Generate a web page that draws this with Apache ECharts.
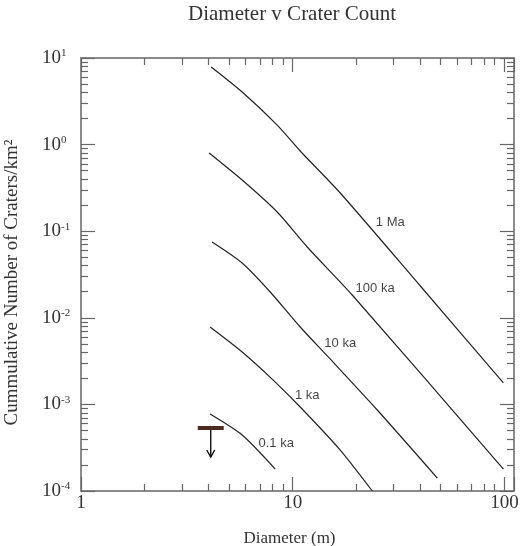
<!DOCTYPE html>
<html>
<head>
<meta charset="utf-8">
<title>Diameter v Crater Count</title>
<script src="https://cdn.jsdelivr.net/npm/echarts@6/dist/echarts.min.js"></script>
<style>
  html, body { margin: 0; padding: 0; background: #fff; }
  #chart { width: 524px; height: 546px; }
</style>
</head>
<body>
<div id="chart"></div>
<script>
// isochrons: diameter (m) vs cumulative craters per km2
const diam1Ma = [4.12, 5.77, 8.45, 10.85, 16.77, 40.08, 98.9]
const count1Ma = [7.87, 4.05, 1.68, 0.844, 0.276, 0.0233, 0.00177]

const diam100ka = [4.03, 5.77, 8.45, 11.71, 19.11, 98.9]
const count100ka = [0.80, 0.390, 0.1666, 0.0657, 0.01834, 0.000179]

const diam10ka = [4.16, 5.77, 7.83, 10.85, 14.72, 25.09, 48.22]
const count10ka = [0.0750, 0.0429, 0.01986, 0.00783, 0.00353, 0.000862, 0.000141]

const diam1ka = [4.07, 5.77, 8.09, 10.85, 16.77, 23.77]
const count1ka = [0.00783, 0.00403, 0.00191, 0.000933, 0.000297, 0.0001]

const diam01ka = [4.07, 5.77, 8.27]
const count01ka = [0.000774, 0.000443, 0.000179]

// curve labels
const labelText = ['1 Ma', '100 ka', '10 ka', '1 ka', '0.1 ka']
const labelDiam = [28.9, 24.5, 16.77, 11.71, 8.36]
const labelCount = [0.1277, 0.02208, 0.00512, 0.001284, 0.000358]

// upper limit marker (diameter, count, arrow tip)
const limitDiam = [4.1]
const limitCount = [0.000534]
const limitTip = [0.000247]

const xTicks = [1, 10, 100]
const yTicks = [1e-4, 1e-3, 1e-2, 1e-1, 1, 10]

const serif = "'Liberation Serif', 'DejaVu Serif', serif"
const frameColor = '#666'

function pairs (xs, ys) {
  return xs.map((x, i) => [x, ys[i]])
}

function isTick (ticks, v) {
  return ticks.find(t => Math.abs(Math.log10(v) - Math.log10(t)) < 1e-6)
}

const curves = [
  [diam1Ma, count1Ma],
  [diam100ka, count100ka],
  [diam10ka, count10ka],
  [diam1ka, count1ka],
  [diam01ka, count01ka]
]

function logAxis (position, extra) {
  return Object.assign({
    type: 'log',
    logBase: 10,
    position: position,
    axisLine: { show: true, onZero: false, lineStyle: { color: frameColor, width: 1.5 } },
    axisTick: { show: true, inside: true, length: 14, lineStyle: { color: frameColor, width: 1.2 } },
    minorTick: { show: true, splitNumber: 9, length: 7, lineStyle: { color: frameColor, width: 1.2 } },
    splitLine: { show: false },
    minorSplitLine: { show: false },
    axisLabel: { show: false }
  }, extra)
}

const chart = echarts.init(document.getElementById('chart'))

chart.setOption({
  animation: false,
  title: {
    text: 'Diameter v Crater Count',
    left: 188,
    top: 4,
    padding: 0,
    textStyle: { fontFamily: serif, fontSize: 21, fontWeight: 'normal', color: '#333' }
  },
  grid: { left: 81, right: 10, top: 58, bottom: 55, containLabel: false, outerBoundsMode: 'none' },
  xAxis: [
    logAxis('bottom', {
      min: 1,
      max: 111,
      axisLabel: {
        show: true,
        margin: 3,
        fontFamily: serif,
        fontSize: 19,
        color: '#333',
        formatter: v => isTick(xTicks, v) ? String(isTick(xTicks, v)) : ''
      },
      name: 'Diameter (m)',
      nameLocation: 'middle',
      nameGap: 39,
      nameTextStyle: { fontFamily: serif, fontSize: 17, color: '#333', padding: [0, 16, 0, 0] }
    }),
    logAxis('top', { min: 1, max: 111 })
  ],
  yAxis: [
    logAxis('left', {
      min: 1e-4,
      max: 10,
      axisLabel: {
        show: true,
        align: 'left',
        margin: 39,
        color: '#333',
        formatter: function (v) {
          const t = isTick(yTicks, v)
          if (!t) return ''
          return '{b|10}{s|' + Math.round(Math.log10(t)) + '}'
        },
        rich: {
          b: { fontFamily: serif, fontSize: 19, color: '#333' },
          s: { fontFamily: serif, fontSize: 11, color: '#333', padding: [0, 0, 9, 0] }
        }
      },
      name: 'Cummulative Number of Craters/km²',
      nameLocation: 'middle',
      nameGap: 59,
      nameTextStyle: { fontFamily: serif, fontSize: 19, color: '#333', padding: [0, 16, 0, 0] }
    }),
    logAxis('right', { min: 1e-4, max: 10 })
  ],
  series: curves.map(c => ({
    type: 'line',
    data: pairs(c[0], c[1]),
    showSymbol: false,
    symbol: 'none',
    smooth: 0.25,
    silent: true,
    lineStyle: { color: '#222', width: 1.2 }
  })).concat([
    {
      type: 'scatter',
      data: labelText.map((t, i) => ({ name: t, value: [labelDiam[i], labelCount[i]] })),
      symbolSize: 1,
      itemStyle: { color: 'rgba(0,0,0,0)' },
      silent: true,
      label: {
        show: true,
        position: 'inside',
        formatter: '{b}',
        fontFamily: "'Liberation Sans', Arial, sans-serif",
        fontSize: 13,
        color: '#111'
      }
    },
    {
      type: 'custom',
      silent: true,
      data: limitDiam.map((d, i) => [d, limitCount[i], limitTip[i]]),
      renderItem: function (params, api) {
        const top = api.coord([api.value(0), api.value(1)])
        const tip = api.coord([api.value(0), api.value(2)])
        return {
          type: 'group',
          children: [
            {
              type: 'line',
              shape: { x1: top[0], y1: top[1], x2: tip[0], y2: tip[1] },
              style: { stroke: '#111', lineWidth: 1.4 }
            },
            {
              type: 'polyline',
              shape: { points: [[tip[0] - 4, tip[1] - 7], [tip[0], tip[1]], [tip[0] + 4, tip[1] - 7]] },
              style: { stroke: '#111', lineWidth: 1.4, fill: null }
            },
            {
              type: 'rect',
              shape: { x: top[0] - 13, y: top[1] - 2, width: 26, height: 4 },
              style: { fill: '#4b2b1d' }
            }
          ]
        }
      }
    }
  ])
})
</script>
</body>
</html>
